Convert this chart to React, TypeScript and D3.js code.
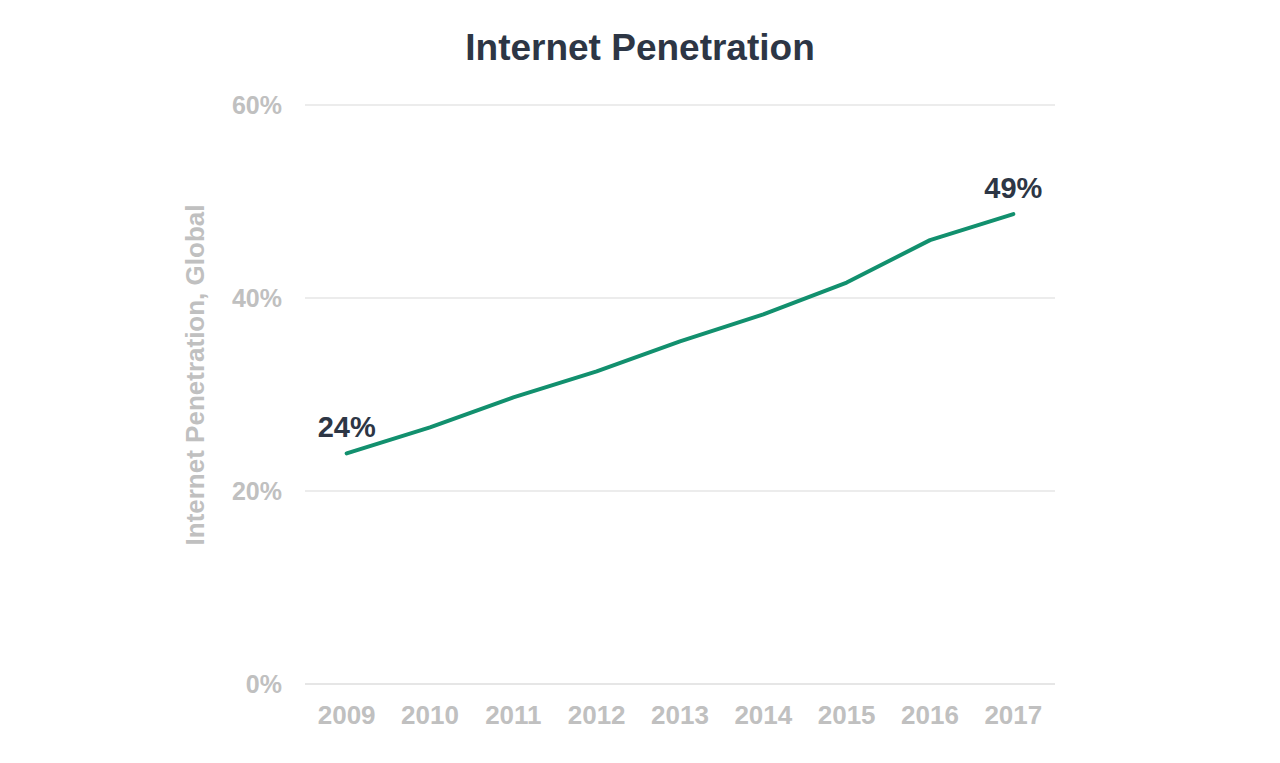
import { useEffect, useRef } from 'react';
import * as d3 from 'd3';

const years = ['2009', '2010', '2011', '2012', '2013', '2014', '2015', '2016', '2017'];
const penetration = [23.9, 26.6, 29.7, 32.4, 35.5, 38.3, 41.6, 46.0, 48.7];
const yTicks = [0, 20, 40, 60];

const WIDTH = 1280;
const HEIGHT = 763;

export default function App() {
  const svgRef = useRef<SVGSVGElement>(null);

  useEffect(() => {
    if (!svgRef.current) return;
    const svg = d3.select(svgRef.current);
    svg.selectAll('*').remove();

    const margin = { top: 105, right: 225, bottom: 79, left: 305 };
    const innerWidth = WIDTH - margin.left - margin.right;
    const innerHeight = HEIGHT - margin.top - margin.bottom;
    const font = '"Liberation Sans", Arial, sans-serif';

    const x = d3.scalePoint<string>().domain(years).range([0, innerWidth]).padding(0.5);
    const y = d3.scaleLinear().domain([0, 60]).range([innerHeight, 0]);

    svg
      .append('text')
      .attr('x', 640)
      .attr('y', 60)
      .attr('text-anchor', 'middle')
      .attr('fill', '#2d3645')
      .style('font-family', font)
      .style('font-size', '37px')
      .style('font-weight', 'bold')
      .text('Internet Penetration');

    const g = svg.append('g').attr('transform', `translate(${margin.left},${margin.top})`);

    // gridlines
    g.selectAll('line.grid')
      .data(yTicks)
      .join('line')
      .attr('class', 'grid')
      .attr('x1', 0)
      .attr('x2', innerWidth)
      .attr('y1', (d) => y(d))
      .attr('y2', (d) => y(d))
      .attr('stroke', '#e6e6e6')
      .attr('stroke-width', (d) => (d === 0 ? 2 : 1.5));

    g.selectAll('text.ytick')
      .data(yTicks)
      .join('text')
      .attr('class', 'ytick')
      .attr('x', -23)
      .attr('y', (d) => y(d))
      .attr('dy', '0.36em')
      .attr('text-anchor', 'end')
      .attr('fill', '#c0c0c0')
      .style('font-family', font)
      .style('font-size', '25px')
      .style('font-weight', 'bold')
      .text((d) => `${d}%`);

    g.selectAll('text.xtick')
      .data(years)
      .join('text')
      .attr('class', 'xtick')
      .attr('x', (d) => x(d) ?? 0)
      .attr('y', innerHeight + 31)
      .attr('dy', '0.36em')
      .attr('text-anchor', 'middle')
      .attr('fill', '#c0c0c0')
      .style('font-family', font)
      .style('font-size', '26px')
      .style('font-weight', 'bold')
      .text((d) => d);

    svg
      .append('text')
      .attr('transform', `translate(195,375) rotate(-90)`)
      .attr('dy', '0.36em')
      .attr('text-anchor', 'middle')
      .attr('fill', '#c0c0c0')
      .style('font-family', font)
      .style('font-size', '26px')
      .style('font-weight', 'bold')
      .text('Internet Penetration, Global');

    const line = d3
      .line<number>()
      .x((_, i) => x(years[i]) ?? 0)
      .y((d) => y(d));

    g.append('path')
      .datum(penetration)
      .attr('fill', 'none')
      .attr('stroke', '#12906e')
      .attr('stroke-width', 4)
      .attr('stroke-linejoin', 'round')
      .attr('stroke-linecap', 'round')
      .attr('d', line);

    const ends = [0, penetration.length - 1];
    g.selectAll('text.endlabel')
      .data(ends)
      .join('text')
      .attr('class', 'endlabel')
      .attr('x', (i) => x(years[i]) ?? 0)
      .attr('y', (i) => y(penetration[i]) - 16)
      .attr('text-anchor', 'middle')
      .attr('fill', '#2d3645')
      .style('font-family', font)
      .style('font-size', '29px')
      .style('font-weight', 'bold')
      .text((i) => `${Math.round(penetration[i])}%`);
  }, []);

  return (
    <svg
      ref={svgRef}
      width={WIDTH}
      height={HEIGHT}
      style={{ position: 'absolute', left: 0, top: 0, background: '#fff' }}
    />
  );
}
